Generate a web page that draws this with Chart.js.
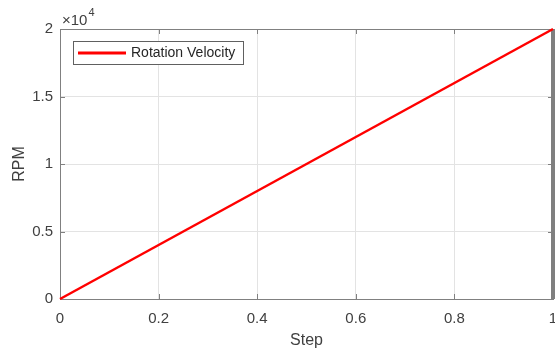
<!DOCTYPE html>
<html>
<head>
<meta charset="utf-8">
<script src="https://cdn.jsdelivr.net/npm/chart.js@4/dist/chart.umd.min.js"></script>
<style>
  html, body { margin: 0; padding: 0; background: #fff; }
  #wrap { width: 555px; height: 352px; }
</style>
</head>
<body>
<div id="wrap"><canvas id="myChart"></canvas></div>
<script>
// data
const steps = [0, 1];
const rpm = [0, 20000];
const markerSteps = [1, 1];
const markerRpm = [0, 20000];
const xTicks = [0, 0.2, 0.4, 0.6, 0.8, 1];
const yTicks = [0, 5000, 10000, 15000, 20000];
const seriesName = 'Rotation Velocity';

const axisColor = '#808080';
const textColor = '#404040';
const font = 'Liberation Sans, Arial, sans-serif';

// box, inward ticks, exponent and legend like the matlab figure
const matlabBox = {
    id: 'matlabBox',
    beforeDatasetsDraw(chart) {
        const ctx = chart.ctx;
        const a = chart.chartArea;
        const xs = chart.scales.x;
        const ys = chart.scales.y;
        ctx.save();
        ctx.strokeStyle = axisColor;
        ctx.lineWidth = 1;
        ctx.beginPath();
        xTicks.forEach(v => {
            const px = Math.round(xs.getPixelForValue(v)) + 0.5;
            ctx.moveTo(px, a.bottom); ctx.lineTo(px, a.bottom - 5);
            ctx.moveTo(px, a.top); ctx.lineTo(px, a.top + 5);
        });
        yTicks.forEach(v => {
            const py = Math.round(ys.getPixelForValue(v)) + 0.5;
            ctx.moveTo(a.left, py); ctx.lineTo(a.left + 5, py);
            ctx.moveTo(a.right, py); ctx.lineTo(a.right - 5, py);
        });
        ctx.stroke();
        ctx.strokeRect(Math.round(a.left) + 0.5, Math.round(a.top) + 0.5,
            Math.round(a.right - a.left), Math.round(a.bottom - a.top));
        ctx.restore();
    },
    afterDraw(chart) {
        const ctx = chart.ctx;
        const a = chart.chartArea;
        ctx.save();
        // x10^4
        ctx.fillStyle = textColor;
        ctx.textBaseline = 'alphabetic';
        ctx.textAlign = 'left';
        ctx.font = '15px ' + font;
        ctx.fillText('\u00d710', a.left + 2, a.top - 4);
        const w = ctx.measureText('\u00d710').width;
        ctx.font = '11px ' + font;
        ctx.fillText('4', a.left + 2 + w + 1, a.top - 13);
        // legend
        const lx = a.left + 13, ly = a.top + 12, lw = 170, lh = 23;
        ctx.fillStyle = '#ffffff';
        ctx.fillRect(lx, ly, lw, lh);
        ctx.strokeStyle = '#606060';
        ctx.lineWidth = 1;
        ctx.strokeRect(lx + 0.5, ly + 0.5, lw, lh);
        ctx.strokeStyle = '#ff0000';
        ctx.lineWidth = 3;
        ctx.beginPath();
        ctx.moveTo(lx + 5, ly + 12);
        ctx.lineTo(lx + 53, ly + 12);
        ctx.stroke();
        ctx.fillStyle = '#262626';
        ctx.font = '14px ' + font;
        ctx.textBaseline = 'middle';
        ctx.fillText(seriesName, lx + 58, ly + 12.5);
        ctx.restore();
    }
};

new Chart('myChart', {
    type: 'scatter',
    data: {
        datasets: [{
            label: seriesName,
            data: steps.map((s, i) => ({ x: s, y: rpm[i] })),
            showLine: true,
            borderColor: '#ff0000',
            borderWidth: 2.5,
            pointRadius: 0,
            clip: false
        }, {
            label: 'marker',
            data: markerSteps.map((s, i) => ({ x: s, y: markerRpm[i] })),
            showLine: true,
            borderColor: '#7f7f7f',
            borderWidth: 4,
            pointRadius: 0,
            clip: false
        }]
    },
    options: {
        responsive: true,
        maintainAspectRatio: false,
        animation: false,
        layout: { padding: { top: 29, right: 2, left: 0, bottom: 0 } },
        plugins: { legend: { display: false }, tooltip: { enabled: false } },
        scales: {
            x: {
                type: 'linear',
                min: 0, max: 1,
                afterBuildTicks: s => { s.ticks = xTicks.map(v => ({ value: v })); },
                afterFit: s => { s.height = 53; s.paddingLeft = 0; s.paddingRight = 0; },
                ticks: {
                    padding: 11,
                    color: textColor,
                    font: { family: font, size: 15 },
                    maxRotation: 0,
                    callback: v => String(v)
                },
                grid: { color: '#e3e3e3', drawTicks: false },
                border: { display: false },
                title: {
                    display: true, text: 'Step', color: textColor,
                    font: { family: font, size: 16 },
                    padding: { top: 0, bottom: 2 }
                }
            },
            y: {
                type: 'linear',
                min: 0, max: 20000,
                afterBuildTicks: s => { s.ticks = yTicks.map(v => ({ value: v })); },
                afterFit: s => { s.width = 60; s.paddingTop = 0; s.paddingBottom = 0; },
                ticks: {
                    padding: 7,
                    color: textColor,
                    font: { family: font, size: 15 },
                    callback: v => String(v / 10000)
                },
                grid: { color: '#e3e3e3', drawTicks: false },
                border: { display: false },
                title: {
                    display: true, text: 'RPM', color: textColor,
                    font: { family: font, size: 16 },
                    padding: { top: 10, bottom: 0 }
                }
            }
        }
    },
    plugins: [matlabBox]
});
</script>
</body>
</html>
